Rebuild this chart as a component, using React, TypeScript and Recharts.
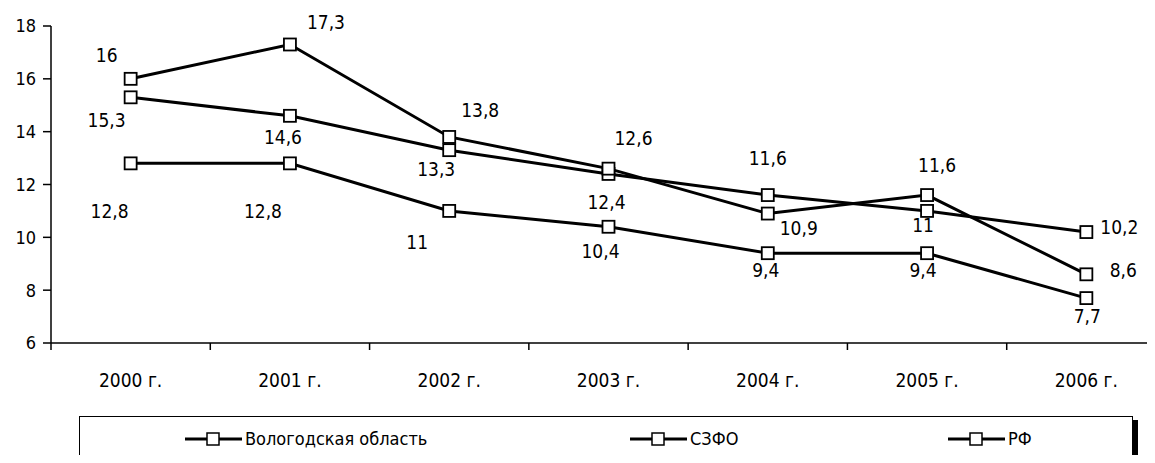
import React from 'react';
import { LineChart, Line, XAxis, YAxis } from 'recharts';

const years = ['2000 г.', '2001 г.', '2002 г.', '2003 г.', '2004 г.', '2005 г.', '2006 г.'];
const vologda = [16, 17.3, 13.8, 12.6, 10.9, 11.6, 8.6];
const szfo = [15.3, 14.6, 13.3, 12.4, 11.6, 11, 10.2];
const rf = [12.8, 12.8, 11, 10.4, 9.4, 9.4, 7.7];
const seriesNames = ['Вологодская область', 'СЗФО', 'РФ'];
const yTicks = [6, 8, 10, 12, 14, 16, 18];

// where each value label sits relative to its point (dx, dy)
const vologdaLabelPos = [[-24, -24], [36, -22], [31, -27], [25, -31], [31, 14], [10, -30], [37, -4]];
const szfoLabelPos = [[-24, 23], [-7, 21], [-13, 19], [-2, 28], [0, -37], [-4, 14], [33, -5]];
const rfLabelPos = [[-21, 48], [-27, 48], [-32, 31], [-8, 24], [-2, 17], [-4, 17], [1, 18]];
const legendLeft = [105, 550, 868];

const FONT = '"Liberation Sans Narrow", "DejaVu Sans Condensed", "DejaVu Sans", sans-serif';
const textStyle = { fontStretch: 'condensed' as const };

const data = years.map((year, i) => ({
  year,
  vologda: vologda[i],
  szfo: szfo[i],
  rf: rf[i],
}));

const fmt = (v: number) => String(v).replace('.', ',');

const makeLabel = (pos: number[][]) => (props: any) => {
  const { x, y, value, index } = props;
  const [dx, dy] = pos[index] || [0, -15];
  return (
    <text
      key={`lbl-${index}`}
      x={x + dx}
      y={y + dy}
      textAnchor="middle"
      dominantBaseline="central"
      fontFamily={FONT}
      fontSize={19}
      style={textStyle}
      fill="#000"
    >
      {fmt(value)}
    </text>
  );
};

const squareDot = (props: any) => {
  const { cx, cy, index } = props;
  return (
    <rect
      key={`dot-${index}`}
      x={cx - 6}
      y={cy - 6}
      width={12}
      height={12}
      fill="#fff"
      stroke="#000"
      strokeWidth={1.8}
    />
  );
};

const YearTick = (props: any) => {
  const { x, y, payload, index } = props;
  const half = payload?.offset ?? 79.6;
  return (
    <g>
      <line x1={x - half} y1={y} x2={x - half} y2={y + 7} stroke="#000" strokeWidth={1.5} />
      {index === years.length - 1 && (
        <line x1={x + half} y1={y} x2={x + half} y2={y + 7} stroke="#000" strokeWidth={1.5} />
      )}
      <text
        x={x}
        y={y + 37}
        textAnchor="middle"
        dominantBaseline="central"
        fontFamily={FONT}
        fontSize={19}
        style={textStyle}
        fill="#000"
      >
        {payload.value}
      </text>
    </g>
  );
};

const LegendMarker = () => (
  <svg width={57} height={14} style={{ display: 'block' }}>
    <line x1={0} y1={7} x2={57} y2={7} stroke="#000" strokeWidth={3} />
    <rect x={22} y={1} width={12} height={12} fill="#fff" stroke="#000" strokeWidth={1.5} />
  </svg>
);

export default function App() {
  return (
    <div
      style={{
        position: 'relative',
        margin: -8,
        width: 1155,
        height: 463,
        overflow: 'hidden',
        background: '#fff',
      }}
    >
      <LineChart
        width={1170}
        height={463}
        data={data}
        margin={{ top: 26, right: 4, left: 0, bottom: 60 }}
      >
        <XAxis
          dataKey="year"
          scale="band"
          axisLine={{ stroke: '#000', strokeWidth: 1.5 }}
          tickLine={false}
          tickSize={0}
          tickMargin={0}
          height={60}
          interval={0}
          tick={<YearTick />}
        />
        <YAxis
          domain={[6, 18]}
          ticks={yTicks}
          width={51}
          tickSize={8}
          tickMargin={7}
          axisLine={{ stroke: '#000', strokeWidth: 1.5 }}
          tickLine={{ stroke: '#000', strokeWidth: 1.5 }}
          tick={{ fill: '#000', fontSize: 18, fontFamily: FONT, style: textStyle }}
        />
        <Line
          dataKey="rf"
          name={seriesNames[2]}
          stroke="#000"
          strokeWidth={3}
          dot={squareDot}
          label={makeLabel(rfLabelPos)}
          isAnimationActive={false}
        />
        <Line
          dataKey="szfo"
          name={seriesNames[1]}
          stroke="#000"
          strokeWidth={3}
          dot={squareDot}
          label={makeLabel(szfoLabelPos)}
          isAnimationActive={false}
        />
        <Line
          dataKey="vologda"
          name={seriesNames[0]}
          stroke="#000"
          strokeWidth={3}
          dot={squareDot}
          label={makeLabel(vologdaLabelPos)}
          isAnimationActive={false}
        />
      </LineChart>

      {/* legend box */}
      <div
        style={{
          position: 'absolute',
          left: 79,
          top: 416,
          width: 1052,
          height: 45,
          border: '1px solid #000',
          boxShadow: '5px 4px 0 #000',
          background: '#fff',
        }}
      >
        {seriesNames.map((name, i) => (
          <div
            key={name}
            style={{
              position: 'absolute',
              left: legendLeft[i],
              top: 12,
              display: 'flex',
              alignItems: 'center',
              fontFamily: FONT,
              fontStretch: 'condensed',
              fontSize: 18,
              lineHeight: '20px',
              color: '#000',
            }}
          >
            <LegendMarker />
            <span style={{ marginLeft: 3 }}>{name}</span>
          </div>
        ))}
      </div>
    </div>
  );
}
